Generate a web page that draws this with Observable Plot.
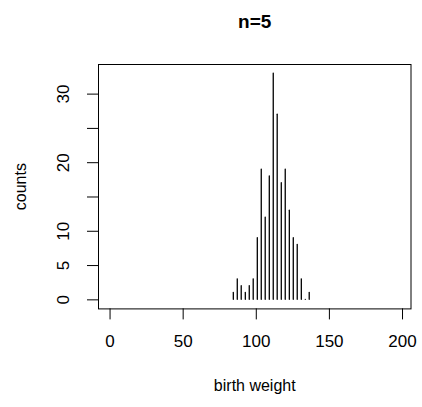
<!DOCTYPE html>
<html><head><meta charset="utf-8">
<script src="https://cdn.jsdelivr.net/npm/d3@7"></script>
<script src="https://cdn.jsdelivr.net/npm/@observablehq/plot@0.6"></script>
<style>body{margin:0;background:#fff;} svg{display:block;}</style>
</head><body><div id="chart"></div>
<script>
const birthWeight = [84.3, 87.0, 89.7, 92.5, 95.2, 97.9, 100.7, 103.4, 106.1, 108.9, 111.6, 114.3, 117.1, 119.8, 122.6, 125.3, 128.0, 130.8, 133.5, 136.2];
const counts = [1, 3, 2, 1, 2, 3, 9, 19, 12, 18, 33, 27, 17, 19, 13, 9, 8, 3, 0, 1];
const xTicks = [0, 50, 100, 150, 200];
const yTicks = [0, 5, 10, 15, 20, 25, 30];
const yTickLabels = ["0", "5", "10", "", "20", "", "30"];
const title = "n=5";
const xLabel = "birth weight";
const yLabel = "counts";

const data = birthWeight.map((w, i) => ({w, n: counts[i]}));
const yLab = yTicks.map((v, i) => ({v, t: yTickLabels[i]}));
const font = "'Liberation Sans', Arial, Helvetica, sans-serif";

const chart = Plot.plot({
  width: 422, height: 407,
  marginLeft: 98, marginRight: 11.5, marginTop: 64, marginBottom: 98.6,
  style: {fontFamily: font, fontSize: "16px", background: "white", color: "black"},
  x: {domain: [-7.9, 205.8], axis: null},
  y: {domain: [-1.32, 34.32], axis: null},
  marks: [
    Plot.frame({stroke: "black", strokeWidth: 1}),
    Plot.ruleX(data, {x: "w", y1: 0, y2: "n", stroke: "black", strokeWidth: 1.3, strokeLinecap: "round"}),
    Plot.axisX({ticks: xTicks, tickSize: 11, tickPadding: 15, fontSize: 17, label: null, stroke: "black"}),
    Plot.axisY({ticks: yTicks, tickFormat: () => "", tickSize: 11, label: null, stroke: "black"}),
    Plot.text(yLab, {y: "v", text: "t", frameAnchor: "left", dx: -35, rotate: -90, fontSize: 17,
      textAnchor: "middle", lineAnchor: "middle"}),
    Plot.text([title], {frameAnchor: "top", dy: -43, fontWeight: "bold", fontSize: 19, lineAnchor: "middle"}),
    Plot.text([xLabel], {frameAnchor: "bottom", dy: 77, fontSize: 16, lineAnchor: "middle"}),
    Plot.text([yLabel], {frameAnchor: "left", dx: -78, rotate: -90, fontSize: 16,
      textAnchor: "middle", lineAnchor: "middle"})
  ]
});
document.getElementById("chart").appendChild(chart);
</script>
</body></html>
